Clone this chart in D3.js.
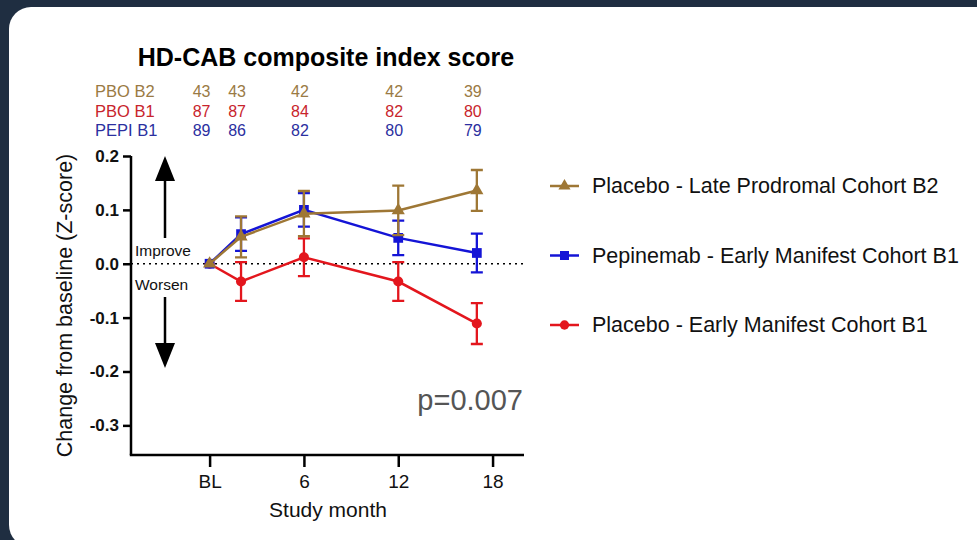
<!DOCTYPE html>
<html>
<head>
    <meta charset="utf-8">
    <title>HD-CAB composite index score</title>
    <script src="https://d3js.org/d3.v7.min.js"></script>
    <style>
        body { margin: 0; background: #1f2e41; }
        text { font-family: "Liberation Sans", Arial, sans-serif; }
    </style>
</head>
<body>
<svg width="977" height="540"></svg>
<script>
    // data
    const months = [0, 2, 6, 12, 17];
    const tickMonths = [0, 6, 12, 18];
    const tickLabels = ["BL", "6", "12", "18"];
    const yTicks = [0.2, 0.1, 0.0, -0.1, -0.2, -0.3];

    const b2Mean = [0, 0.050, 0.093, 0.099, 0.136];
    const b2Err  = [0, 0.038, 0.042, 0.046, 0.038];
    const pepiMean = [0, 0.055, 0.100, 0.048, 0.020];
    const pepiErr  = [0, 0.031, 0.031, 0.032, 0.036];
    const b1Mean = [0, -0.033, 0.012, -0.033, -0.111];
    const b1Err  = [0, 0.036, 0.035, 0.036, 0.038];

    const countLabels = ["PBO B2", "PBO B1", "PEPI B1"];
    const b2Counts = [43, 43, 42, 42, 39];
    const b1Counts = [87, 87, 84, 82, 80];
    const pepiCounts = [89, 86, 82, 80, 79];

    const series = [
        { name: "Placebo - Early Manifest Cohort B1", mean: b1Mean, err: b1Err, color: "#e3161d", symbol: d3.symbolCircle, size: 80 },
        { name: "Pepinemab - Early Manifest Cohort B1", mean: pepiMean, err: pepiErr, color: "#1414d6", symbol: d3.symbolSquare, size: 95 },
        { name: "Placebo - Late Prodromal Cohort B2", mean: b2Mean, err: b2Err, color: "#9e7735", symbol: d3.symbolTriangle, size: 75 }
    ];

    const svg = d3.select("svg");

    // white card
    svg.append("rect")
        .attr("x", 9).attr("y", 7)
        .attr("width", 1010).attr("height", 540)
        .attr("rx", 22)
        .attr("fill", "#ffffff");

    const x = d3.scaleLinear().domain([-5, 20]).range([131, 524]);
    const y = d3.scaleLinear().domain([-0.355, 0.2]).range([455, 156]);

    const g = svg.append("g");

    // zero reference line
    g.append("line")
        .attr("x1", x(-5)).attr("x2", x(20))
        .attr("y1", y(0)).attr("y2", y(0))
        .attr("stroke", "#000")
        .attr("stroke-width", 1.6)
        .attr("stroke-dasharray", "2,4");

    // y axis
    const fmt = d => d3.format(".1f")(d).replace("\u2212", "-");
    const yAxis = g.append("g")
        .attr("transform", `translate(${x(-5)},0)`)
        .call(d3.axisLeft(y).tickValues(yTicks).tickFormat(fmt).tickSize(8).tickSizeOuter(0));
    yAxis.select(".domain").attr("stroke-width", 2.5).attr("d", `M0,${y(-0.355)}V${y(0.2)}`);
    yAxis.selectAll(".tick line").attr("stroke-width", 2.5);
    yAxis.selectAll(".tick text")
        .attr("font-size", 17).attr("font-weight", "bold")
        .attr("font-family", "Liberation Sans, Arial, sans-serif")
        .attr("fill", "#111").attr("x", -12);

    // x axis
    const xAxis = g.append("g")
        .attr("transform", `translate(0,${y(-0.355)})`)
        .call(d3.axisBottom(x).tickValues(tickMonths).tickFormat((d, i) => tickLabels[i]).tickSize(12).tickSizeOuter(0));
    xAxis.select(".domain").attr("stroke-width", 2.5).attr("d", `M${x(-5) - 1.2},0H${x(20)}`);
    xAxis.selectAll(".tick line").attr("stroke-width", 2.5);
    xAxis.selectAll(".tick text")
        .attr("font-size", 19)
        .attr("font-family", "Liberation Sans, Arial, sans-serif")
        .attr("fill", "#111").attr("dy", "0.95em");

    // titles
    svg.append("text")
        .attr("x", 326).attr("y", 66)
        .attr("text-anchor", "middle")
        .attr("font-size", 25).attr("font-weight", "bold")
        .attr("fill", "#000")
        .text("HD-CAB composite index score");

    svg.append("text")
        .attr("transform", `translate(72,${(y(-0.355) + y(0.2)) / 2}) rotate(-90)`)
        .attr("text-anchor", "middle")
        .attr("font-size", 21.5)
        .attr("fill", "#111")
        .text("Change from baseline (Z-score)");

    svg.append("text")
        .attr("x", 328).attr("y", 517)
        .attr("text-anchor", "middle")
        .attr("font-size", 21)
        .attr("fill", "#111")
        .text("Study month");

    // counts table
    const countRows = [
        { label: countLabels[0], values: b2Counts, color: "#9a7a44" },
        { label: countLabels[1], values: b1Counts, color: "#c8242c" },
        { label: countLabels[2], values: pepiCounts, color: "#2b2fa0" }
    ];
    countRows.forEach((row, r) => {
        const yy = 97 + r * 19.5;
        svg.append("text")
            .attr("x", 95).attr("y", yy)
            .attr("font-size", 16.5)
            .attr("fill", row.color)
            .text(row.label);
        svg.selectAll(null)
            .data(row.values)
            .enter()
            .append("text")
            .attr("x", (d, i) => x(months[i]) - (i === 0 ? 8 : 4))
            .attr("y", yy)
            .attr("text-anchor", "middle")
            .attr("font-size", 16)
            .attr("fill", row.color)
            .text(d => d);
    });

    // arrows and labels
    const arrows = g.append("g").attr("fill", "#000").attr("stroke", "#000");
    arrows.append("line").attr("x1", 165).attr("x2", 165).attr("y1", 238).attr("y2", 176).attr("stroke-width", 2.5);
    arrows.append("path").attr("d", "M165,156L175,181L155,181Z").attr("stroke", "none");
    arrows.append("line").attr("x1", 165).attr("x2", 165).attr("y1", 297).attr("y2", 348).attr("stroke-width", 2.5);
    arrows.append("path").attr("d", "M165,368L175,343L155,343Z").attr("stroke", "none");

    svg.append("text").attr("x", 135).attr("y", 256).attr("font-size", 15.5).attr("fill", "#111").text("Improve");
    svg.append("text").attr("x", 135).attr("y", 290).attr("font-size", 15.5).attr("fill", "#111").text("Worsen");

    svg.append("text")
        .attr("x", 523).attr("y", 410)
        .attr("text-anchor", "end")
        .attr("font-size", 29)
        .attr("font-family", "Open Sans, Liberation Sans, sans-serif")
        .attr("fill", "#555")
        .text("p=0.007");

    // series
    const line = d3.line()
        .x((d, i) => x(months[i]))
        .y(d => y(d));

    series.forEach(s => {
        const sg = g.append("g");
        const pts = months.map((m, i) => ({ m: m, v: s.mean[i], e: s.err[i] })).filter(p => p.e > 0);

        sg.selectAll(".err")
            .data(pts)
            .enter()
            .append("path")
            .attr("fill", "none")
            .attr("stroke", s.color)
            .attr("stroke-width", 2.3)
            .attr("d", p => {
                const cx = x(p.m), t = y(p.v + p.e), b = y(p.v - p.e);
                return `M${cx - 6},${t}H${cx + 6}M${cx},${t}V${b}M${cx - 6},${b}H${cx + 6}`;
            });

        sg.append("path")
            .datum(s.mean)
            .attr("fill", "none")
            .attr("stroke", s.color)
            .attr("stroke-width", 2.5)
            .attr("d", line);

        sg.selectAll(".pt")
            .data(s.mean)
            .enter()
            .append("path")
            .attr("transform", (d, i) => `translate(${x(months[i])},${y(d)})`)
            .attr("d", d3.symbol().type(s.symbol).size(s.size))
            .attr("fill", s.color);
    });

    // legend
    const legend = svg.append("g");
    const legendItems = series.slice().reverse();
    legendItems.forEach((s, i) => {
        const ly = 186 + i * 69.5;
        legend.append("line")
            .attr("x1", 550).attr("x2", 579)
            .attr("y1", ly).attr("y2", ly)
            .attr("stroke", s.color).attr("stroke-width", 2.5);
        legend.append("path")
            .attr("transform", `translate(564.5,${ly})`)
            .attr("d", d3.symbol().type(s.symbol).size(s.size * 0.85))
            .attr("fill", s.color);
        legend.append("text")
            .attr("x", 592).attr("y", ly + 7)
            .attr("font-size", 21.5)
            .attr("fill", "#111")
            .text(s.name);
    });
</script>
</body>
</html>
